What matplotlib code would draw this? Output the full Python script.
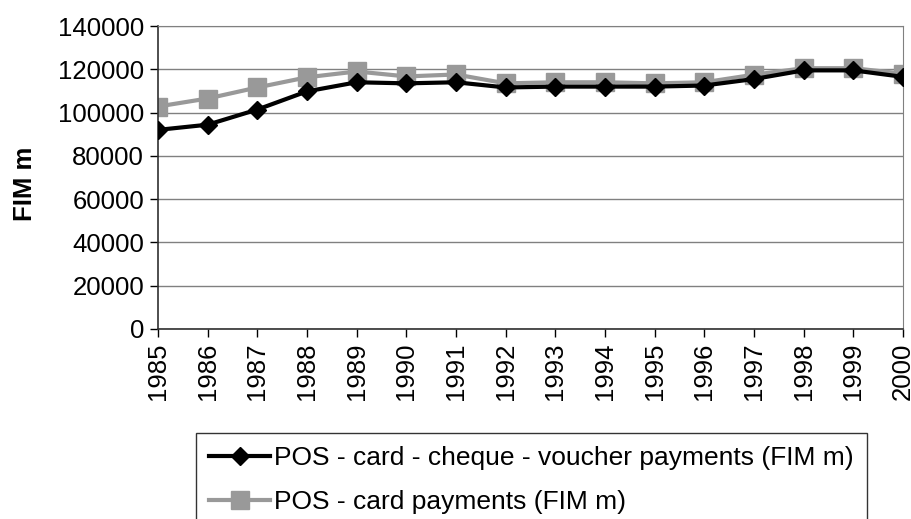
import numpy as np
import matplotlib.pyplot as plt

years = list(range(1985, 2001))
cheque_voucher = [92000, 94400, 101400, 109800, 114000, 113500, 114000, 111600,
                  112000, 112000, 112000, 112500, 115500, 119500, 119500, 116500]
card = [102800, 106500, 111600, 116300, 119000, 116700, 117600, 113500,
        114000, 114000, 113500, 114000, 117500, 120500, 120500, 118000]
yticks = list(range(0, 140001, 20000))

plt.rcParams['font.family'] = ['Liberation Sans', 'DejaVu Sans']
plt.rcParams['font.size'] = 18.5

fig = plt.figure(figsize=(9.12, 5.19), dpi=100)
ax = fig.add_axes([158 / 912, 1 - 329 / 519, (903 - 158) / 912, (329 - 26) / 519])

ax.plot(years, cheque_voucher, color='black', lw=3, marker='D', ms=9.5,
        label='POS - card - cheque - voucher payments (FIM m)', zorder=3)
ax.plot(years, card, color='#999999', lw=3, marker='s', ms=12.5,
        label='POS - card payments (FIM m)', zorder=2)

ax.set_xlim(1985, 2000)
ax.set_ylim(0, 140000)
ax.set_yticks(yticks)
ax.set_xticks(years)
ax.set_xticklabels([str(y) for y in years], rotation=90)
ax.yaxis.grid(True, color='#808080', lw=1)
ax.set_axisbelow(True)
for s in ['top', 'right']:
    ax.spines[s].set_color('#808080')
for s in ['left', 'bottom']:
    ax.spines[s].set_color('#303030')
    ax.spines[s].set_linewidth(1.2)
ax.tick_params(direction='out', length=6, width=1, colors='black', pad=4)
ax.set_ylabel('FIM m', fontweight='bold')
ax.yaxis.set_label_coords(-0.162, 0.48)

leg = fig.legend(loc='upper left', bbox_to_anchor=(196 / 912, 1 - 433 / 519),
                 frameon=True, fancybox=False, edgecolor='black', fontsize=19,
                 handlelength=2.3, borderpad=0.5, labelspacing=0.76,
                 handletextpad=0.15, borderaxespad=0)
leg.get_frame().set_linewidth(1)

fig.savefig('out.png', dpi=100)
